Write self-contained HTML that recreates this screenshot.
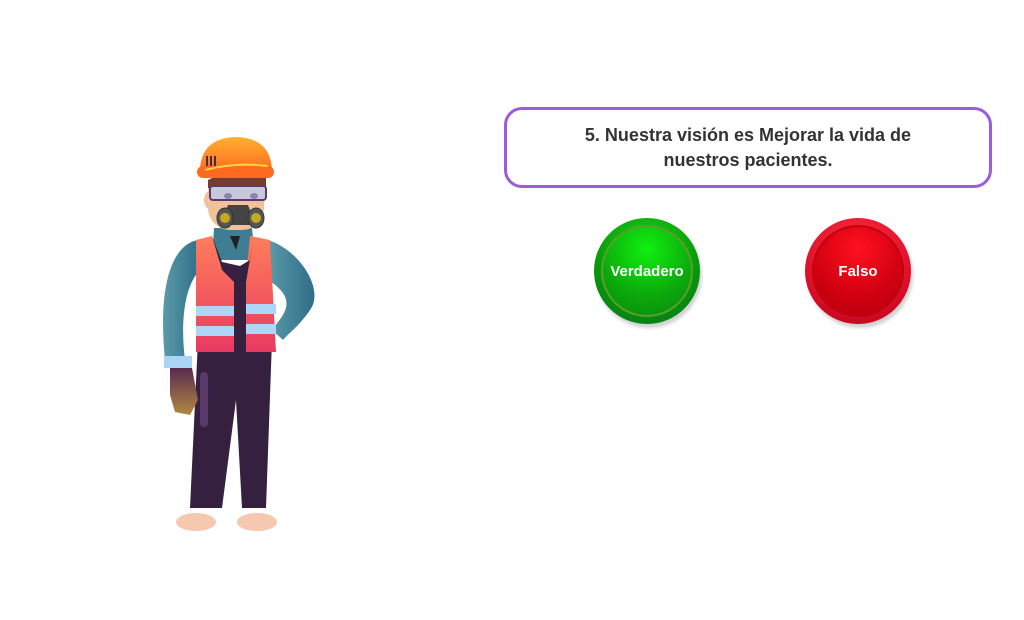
<!DOCTYPE html>
<html><head><meta charset="utf-8"><style>
html,body{margin:0;padding:0;background:#fff;width:1024px;height:620px;overflow:hidden;font-family:"Liberation Sans",sans-serif}
.q{position:absolute;left:504px;top:107px;width:482px;height:75px;border:3px solid #9d5be0;border-radius:18px;display:flex;align-items:center;justify-content:center;text-align:center;font-weight:bold;font-size:18px;line-height:25px;color:#333}
.b{position:absolute;width:106px;height:106px;border-radius:50%;display:flex;align-items:center;justify-content:center;color:#fff;font-weight:bold;font-size:15px;box-shadow:2px 4px 3px rgba(0,0,0,0.18)}
.g{left:594px;top:218px;background:radial-gradient(circle at 50% 30%,#1adf1a,#0a9a0a 55%,#05701e)}
.g::before{content:"";position:absolute;left:7px;top:7px;right:7px;bottom:7px;border-radius:50%;border:2px solid #5aa02a;background:radial-gradient(circle at 50% 25%,#10f010,#0ca80c 60%,#068a0c)}
.r{left:805px;top:218px;background:radial-gradient(circle at 50% 30%,#ff3040,#e0102a 60%,#b00018)}
.r::before{content:"";position:absolute;left:7px;top:7px;right:7px;bottom:7px;border-radius:50%;border:2px solid #c00010;background:radial-gradient(circle at 50% 25%,#ff1020,#d00010 60%,#b4000c)}
.b span{position:relative}
</style></head><body>
<div class="q">5. Nuestra visión es Mejorar la vida de<br>nuestros pacientes.</div>
<div class="b g"><span>Verdadero</span></div>
<div class="b r"><span>Falso</span></div>
<svg width="1024" height="620" style="position:absolute;left:0;top:0">
<defs>
<linearGradient id="arm" x1="0" y1="0" x2="1" y2="0"><stop offset="0" stop-color="#5a9aa8"/><stop offset="1" stop-color="#2f6e88"/></linearGradient>
<linearGradient id="vest" x1="0" y1="0" x2="0" y2="1"><stop offset="0" stop-color="#ff7d5a"/><stop offset="1" stop-color="#e83a62"/></linearGradient>
<linearGradient id="helm" x1="0" y1="0" x2="0" y2="1"><stop offset="0" stop-color="#ffb030"/><stop offset="1" stop-color="#ff6a20"/></linearGradient>
<linearGradient id="glove" x1="0" y1="0" x2="0" y2="1"><stop offset="0" stop-color="#5a2a50"/><stop offset="1" stop-color="#b08a40"/></linearGradient>
</defs>
<path d="M198 340 L272 340 L266 508 L242 508 L236 400 L222 508 L190 508 Z" fill="#35203f"/>
<rect x="200" y="372" width="8" height="55" rx="4" fill="#5a3a6a"/>
<ellipse cx="196" cy="522" rx="20" ry="9" fill="#f6c8b0"/>
<ellipse cx="257" cy="522" rx="20" ry="9" fill="#f6c8b0"/>
<path d="M198 240 C170 245 158 290 165 360 L185 360 C180 320 185 285 200 270 Z" fill="url(#arm)"/>
<path d="M268 240 C300 250 325 290 310 310 C300 325 290 332 283 340 L272 330 C283 315 300 300 268 280 Z" fill="url(#arm)"/>
<rect x="164" y="356" width="28" height="12" fill="#a9d4f5"/>
<path d="M170 368 L192 368 L198 400 L190 415 L175 412 L170 395 Z" fill="url(#glove)"/>
<path d="M214 228 L252 228 L255 260 L212 260 Z" fill="#3f7d92"/>
<path d="M230 236 L240 236 L236 250 Z" fill="#222"/>
<path d="M196 240 L212 236 L222 270 L234 280 L234 352 L196 352 Z" fill="url(#vest)"/>
<path d="M250 236 L270 240 L276 352 L246 352 L246 280 Z" fill="url(#vest)"/>
<path d="M212 236 L222 270 L234 282 L234 352 L246 352 L246 282 L254 236 L250 260 L240 266 L222 262 Z" fill="#35203f"/>
<rect x="196" y="306" width="38" height="10" fill="#aed6f6"/>
<rect x="246" y="304" width="30" height="10" fill="#aed6f6"/>
<rect x="196" y="326" width="38" height="10" fill="#aed6f6"/>
<rect x="246" y="324" width="30" height="10" fill="#aed6f6"/>
<ellipse cx="212" cy="200" rx="8" ry="10" fill="#f3c09c"/>
<rect x="208" y="170" width="56" height="60" rx="22" fill="#f3c09c"/>
<path d="M208 180 Q236 165 266 178 L266 188 L208 188 Z" fill="#7a3a2a"/>
<rect x="210" y="186" width="56" height="14" rx="3" fill="#c8c8dc" stroke="#5a3a6a" stroke-width="2"/>
<ellipse cx="228" cy="196" rx="4" ry="3" fill="#8a85b0"/><ellipse cx="254" cy="196" rx="4" ry="3" fill="#8a85b0"/>
<path d="M228 205 L248 205 L256 225 L220 225 Z" fill="#444"/>
<ellipse cx="225" cy="218" rx="8" ry="10" fill="#555" stroke="#333"/>
<ellipse cx="256" cy="218" rx="8" ry="10" fill="#555" stroke="#333"/>
<circle cx="225" cy="218" r="5" fill="#c8a820"/><circle cx="256" cy="218" r="5" fill="#c8a820"/>
<path d="M200 172 Q200 138 236 137 Q272 138 272 172 Z" fill="url(#helm)"/>
<rect x="197" y="166" width="77" height="12" rx="6" fill="#ff6a20"/>
<path d="M205 170 Q236 162 268 166" stroke="#ffd040" stroke-width="2" fill="none"/>
<rect x="206" y="156" width="2" height="10" fill="#4a2a4a"/><rect x="210" y="156" width="2" height="10" fill="#4a2a4a"/><rect x="214" y="156" width="2" height="10" fill="#4a2a4a"/>
</svg>
</body></html>
